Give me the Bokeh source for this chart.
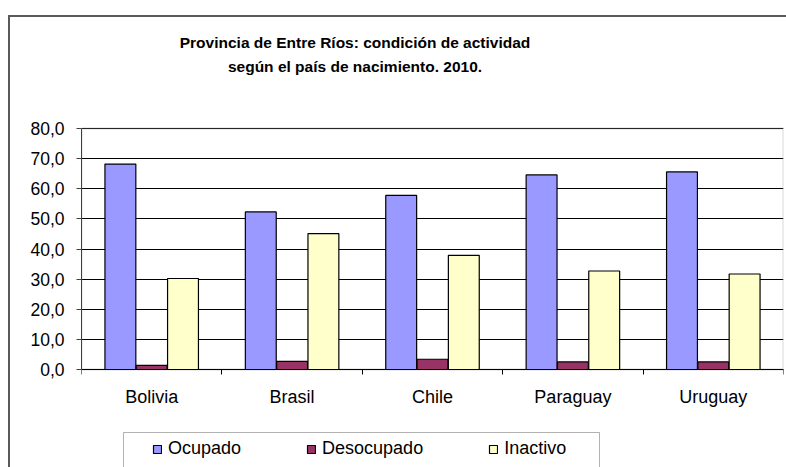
from bokeh.plotting import figure
from bokeh.models import (ColumnDataSource, Range1d, FixedTicker, Legend, LegendItem, Label,
                          BoxAnnotation, LinearAxis)
from bokeh.transform import dodge
from bokeh.embed import file_html
from bokeh.resources import INLINE

categories = ["Bolivia", "Brasil", "Chile", "Paraguay", "Uruguay"]
ocupado = [68.2, 52.3, 57.8, 64.6, 65.6]
desocupado = [1.4, 2.7, 3.4, 2.5, 2.5]
inactivo = [30.2, 45.1, 37.9, 32.7, 31.7]
y_ticks = [0, 10, 20, 30, 40, 50, 60, 70, 80]
title_lines = ["Provincia de Entre Ríos: condición de actividad",
               "según el país de nacimiento. 2010."]
series_names = ["Ocupado", "Desocupado", "Inactivo"]
colors = ["#9999FF", "#993366", "#FFFFCC"]

W, H = 786, 467
FRAME_TOP, FRAME_LEFT, FRAME_RIGHT = 17, 81, 783
PLOT_TOP, PLOT_BOTTOM = 128, 369          # pixel rows of 80 and 0
Y_MIN, Y_MAX = y_ticks[0], y_ticks[-1]
N = len(categories)
ppu = (PLOT_BOTTOM - PLOT_TOP) / (Y_MAX - Y_MIN)
xppu = (FRAME_RIGHT - FRAME_LEFT) / N
y_lo = Y_MIN - (H - PLOT_BOTTOM) / ppu
y_hi = Y_MAX + (PLOT_TOP - FRAME_TOP) / ppu

centers = [i + 0.5 for i in range(N)]
bounds = [float(i) for i in range(N + 1)]

src = ColumnDataSource(dict(x=centers, ocupado=ocupado, desocupado=desocupado, inactivo=inactivo))

p = figure(width=W, height=H, output_backend="svg", toolbar_location=None,
           x_range=Range1d(0, N), y_range=Range1d(y_lo, y_hi),
           x_axis_location=None,
           min_border_left=FRAME_LEFT, min_border_right=W - FRAME_RIGHT,
           min_border_top=FRAME_TOP, min_border_bottom=0)
p.border_fill_color = None
p.background_fill_color = "white"
p.outline_line_color = None
p.styles = {
    "background": "linear-gradient(#5a5a5a,#5a5a5a) 8px 15px / 100% 2px no-repeat, "
                  "linear-gradient(#5a5a5a,#5a5a5a) 8px 15px / 2px 100% no-repeat, white"
}

# plot-area border (gray)
p.add_layout(BoxAnnotation(left=0, right=N, bottom=Y_MIN, top=Y_MAX,
                           fill_alpha=0, line_color="#808080", line_width=2, level="underlay"))

# grid
p.xgrid.visible = False
p.ygrid.ticker = FixedTicker(ticks=y_ticks)
p.ygrid.grid_line_color = "black"
p.ygrid.grid_line_width = 1

offsets = [-0.223, 0.0, 0.223]
fields = ["ocupado", "desocupado", "inactivo"]
renderers = []
for f, off, c in zip(fields, offsets, colors):
    r = p.vbar(x=dodge("x", off), top=f, width=0.22, bottom=0, source=src,
               fill_color=c, line_color="black", line_width=1.2)
    renderers.append(r)

font = "Liberation Sans"
# x axis at y = 0
xa = LinearAxis(fixed_location=0)
xa.ticker = FixedTicker(ticks=centers, minor_ticks=bounds)
xa.major_label_overrides = {c: n for c, n in zip(centers, categories)}
xa.major_tick_out = 0
xa.major_tick_in = 0
xa.minor_tick_out = 5
xa.minor_tick_in = 0
xa.minor_tick_line_color = "black"
xa.axis_line_color = "black"
xa.major_label_text_font = font
xa.major_label_text_font_size = "18px"
xa.major_label_text_color = "black"
xa.major_label_standoff = 12
p.add_layout(xa, "below")

# y axis
ya = p.yaxis[0]
ya.bounds = (Y_MIN, Y_MAX)
ya.ticker = FixedTicker(ticks=y_ticks)
ya.major_label_overrides = {t: f"{t:.1f}".replace(".", ",") for t in y_ticks}
ya.major_tick_out = 5
ya.major_tick_in = 0
ya.minor_tick_out = 0
ya.minor_tick_in = 0
ya.axis_line_color = "#404040"
ya.major_tick_line_color = "#404040"
ya.major_label_text_font = font
ya.major_label_text_font_size = "17.5px"
ya.major_label_text_color = "black"
ya.major_label_standoff = 12

# title (screen units, relative to frame bottom-left)
for line, yc in zip(title_lines, [41.5, 66]):
    p.add_layout(Label(x=354.5 - FRAME_LEFT, y=H - yc, x_units="screen", y_units="screen",
                       text=line, text_align="center", text_baseline="middle",
                       text_font=font, text_font_style="bold", text_font_size="15.5px",
                       text_color="black"))

# legend box (drawn separately so it can be wider than the items)
LEG_L, LEG_R, LEG_T = 123, 599, 432
p.add_layout(BoxAnnotation(left=(LEG_L - FRAME_LEFT) / xppu, right=(LEG_R - FRAME_LEFT) / xppu,
                           top=Y_MIN - (LEG_T - PLOT_BOTTOM) / ppu, bottom=y_lo - 5,
                           fill_color="white", fill_alpha=1, line_color="black", line_width=1))

items = [LegendItem(label=n, renderers=[r]) for n, r in zip(series_names, renderers)]
legend = Legend(items=items, orientation="horizontal", location=(152 - FRAME_LEFT, 8),
                padding=8, spacing=65, glyph_width=10, glyph_height=10,
                label_standoff=6, label_height=20,
                label_text_font=font, label_text_font_size="18px", label_text_color="black",
                border_line_color=None, background_fill_alpha=0,
                margin=0)
p.add_layout(legend, "center")

open("out.html", "w").write(file_html(p, INLINE))
